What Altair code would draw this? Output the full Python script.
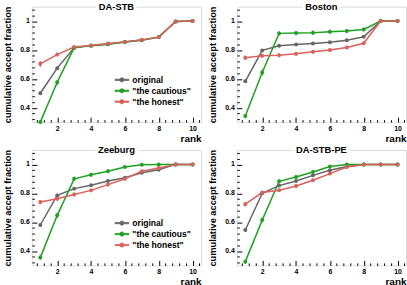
import altair as alt
import pandas as pd

ranks = [1, 2, 3, 4, 5, 6, 7, 8, 9, 10]
panel_names = ["DA-STB", "Boston", "Zeeburg", "DA-STB-PE"]
series_names = ["original", "\"the cautious\"", "\"the honest\""]
series_colors = ["#666666", "#22a022", "#d9625b"]

# DA-STB
dastb_original = [0.500, 0.674, 0.815, 0.830, 0.840, 0.855, 0.868, 0.889, 0.998, 1.000]
dastb_cautious = [0.300, 0.576, 0.815, 0.830, 0.841, 0.855, 0.869, 0.889, 0.998, 1.000]
dastb_honest = [0.704, 0.768, 0.820, 0.831, 0.845, 0.856, 0.870, 0.889, 0.998, 1.000]
dastb_err_original = [0.010, 0.010, 0.008, 0.007, 0.007, 0.007, 0.006, 0.006, 0.002, 0.000]
dastb_err_cautious = [0.012, 0.018, 0.008, 0.007, 0.007, 0.007, 0.006, 0.006, 0.002, 0.000]
dastb_err_honest = [0.020, 0.012, 0.008, 0.007, 0.007, 0.007, 0.006, 0.006, 0.002, 0.000]

# Boston
boston_original = [0.583, 0.797, 0.829, 0.838, 0.845, 0.854, 0.868, 0.892, 1.000, 1.000]
boston_cautious = [0.342, 0.644, 0.915, 0.917, 0.920, 0.926, 0.931, 0.942, 1.000, 1.000]
boston_honest = [0.746, 0.760, 0.764, 0.773, 0.787, 0.799, 0.817, 0.846, 1.000, 1.000]
boston_err_original = [0.010, 0.008, 0.007, 0.007, 0.007, 0.007, 0.007, 0.006, 0.002, 0.000]
boston_err_cautious = [0.015, 0.020, 0.015, 0.015, 0.015, 0.014, 0.013, 0.012, 0.003, 0.000]
boston_err_honest = [0.015, 0.014, 0.014, 0.013, 0.013, 0.013, 0.012, 0.012, 0.003, 0.000]

# Zeeburg
zeeburg_original = [0.580, 0.785, 0.832, 0.855, 0.885, 0.908, 0.942, 0.963, 1.000, 1.000]
zeeburg_cautious = [0.354, 0.647, 0.900, 0.928, 0.952, 0.982, 0.998, 1.000, 1.000, 1.000]
zeeburg_honest = [0.739, 0.762, 0.792, 0.820, 0.860, 0.900, 0.952, 0.975, 1.000, 1.000]
zeeburg_err_original = [0.012, 0.010, 0.009, 0.009, 0.008, 0.008, 0.007, 0.006, 0.002, 0.000]
zeeburg_err_cautious = [0.015, 0.018, 0.015, 0.014, 0.012, 0.008, 0.003, 0.002, 0.000, 0.000]
zeeburg_err_honest = [0.015, 0.014, 0.014, 0.013, 0.013, 0.012, 0.010, 0.008, 0.002, 0.000]

# DA-STB-PE
dastbpe_original = [0.545, 0.800, 0.853, 0.885, 0.924, 0.959, 0.986, 1.000, 1.000, 1.000]
dastbpe_cautious = [0.326, 0.614, 0.883, 0.913, 0.947, 0.986, 1.000, 1.000, 1.000, 1.000]
dastbpe_honest = [0.724, 0.805, 0.821, 0.850, 0.890, 0.936, 0.982, 1.000, 1.000, 1.000]
dastbpe_err_original = [0.010, 0.008, 0.008, 0.007, 0.006, 0.005, 0.003, 0.001, 0.000, 0.000]
dastbpe_err_cautious = [0.012, 0.016, 0.012, 0.011, 0.010, 0.006, 0.002, 0.000, 0.000, 0.000]
dastbpe_err_honest = [0.016, 0.012, 0.012, 0.011, 0.010, 0.009, 0.005, 0.001, 0.000, 0.000]

panel_values = {
    "DA-STB": [dastb_original, dastb_cautious, dastb_honest],
    "Boston": [boston_original, boston_cautious, boston_honest],
    "Zeeburg": [zeeburg_original, zeeburg_cautious, zeeburg_honest],
    "DA-STB-PE": [dastbpe_original, dastbpe_cautious, dastbpe_honest],
}
panel_errors = {
    "DA-STB": [dastb_err_original, dastb_err_cautious, dastb_err_honest],
    "Boston": [boston_err_original, boston_err_cautious, boston_err_honest],
    "Zeeburg": [zeeburg_err_original, zeeburg_err_cautious, zeeburg_err_honest],
    "DA-STB-PE": [dastbpe_err_original, dastbpe_err_cautious, dastbpe_err_honest],
}

x_tick_values = [round(0.8 + 0.4 * k, 1) for k in range(25)]
y_tick_values = [round(0.32 + 0.04 * k, 2) for k in range(20)]
x_tick_labels = ["2", "4", "6", "8", "10"]
y_label_values = [0.4, 0.6, 0.8, 1.0]
y_tick_labels = ["0.4", "0.6", "0.8", "1"]

FONT = "Liberation Sans"
W, H = 170, 116
TICK = 5


def js_list(items):
    return "[" + ",".join("'" + s + "'" for s in items) + "]"


LEGEND_SYMBOL = ("M-1,-0.09H1V0.09H-1Z"
                 "M-0.3,0A0.3,0.3,0,1,1,0.3,0A0.3,0.3,0,1,1,-0.3,0Z")

X_MAJOR = "indexof(" + js_list(x_tick_labels) + ", format(datum.value, '~g')) >= 0"
Y_MAJOR = "indexof(" + js_list(y_tick_labels) + ", format(datum.value, '~g')) >= 0"

X_SCALE = alt.Scale(domain=[0.5, 10.5], nice=False, zero=False)
Y_SCALE = alt.Scale(domain=[0.3, 1.1], nice=False, zero=False)

X_AXIS = alt.Axis(
    values=x_tick_values, offset=-TICK, zindex=1,
    labelExpr="(" + X_MAJOR + ") ? format(datum.value, '~g') : ''", labelOverlap=False,
    ticks=True, tickSize=TICK, tickColor="black", tickWidth=1,
    tickDash={"condition": {"test": X_MAJOR, "value": [TICK, 100]},
              "value": [0, TICK / 2, TICK / 2, 100]},
    domain=False, grid=False,
    labelFont=FONT, labelFontWeight="bold", labelFontSize=7, labelPadding=2,
    labelColor="black", labelFlush=False, labelBound=False,
    title="rank", titleFont=FONT, titleFontWeight="bold", titleFontSize=10,
    titleAnchor="end", titlePadding=2, titleColor="black",
)
Y_AXIS = alt.Axis(
    values=y_tick_values, offset=-TICK, zindex=1,
    labels=False,
    ticks=True, tickSize=TICK, tickColor="black", tickWidth=1,
    tickDash={"condition": {"test": Y_MAJOR, "value": [TICK, 100]},
              "value": [0, TICK / 2, TICK / 2, 100]},
    domain=False, grid=False,
    title="cumulative accept fraction", titleFont=FONT, titleFontWeight="bold",
    titleFontSize=9.3, titlePadding=19, titleColor="black",
)


def make_panel(name):
    rows = []
    for s, vals, errs in zip(series_names, panel_values[name], panel_errors[name]):
        for r, v, e in zip(ranks, vals, errs):
            rows.append({"rank": r, "value": v, "lo": v - e, "hi": v + e, "series": s})
    df = pd.DataFrame(rows)

    color = alt.Color(
        "series:N",
        scale=alt.Scale(domain=series_names, range=series_colors),
        legend=alt.Legend(
            orient="none", legendX=83, legendY=68, title=None, padding=0,
            labelFont=FONT, labelFontWeight="bold", labelFontSize=8.6,
            labelColor="black", labelOffset=3,
            symbolType=LEGEND_SYMBOL, symbolSize=196, symbolStrokeWidth=0.8,
            clipHeight=11, rowPadding=0,
        ),
    )
    x = alt.X("rank:Q", scale=X_SCALE, axis=X_AXIS)
    y = alt.Y("value:Q", scale=Y_SCALE, axis=Y_AXIS)
    base = alt.Chart(df).encode(x=x, y=y, color=color)
    lines = base.mark_line(strokeWidth=1.5)
    pts = base.mark_point(filled=True, size=16, opacity=1, shape="circle")
    errs = base.mark_rule(strokeWidth=1.3).encode(
        y=alt.Y("lo:Q", scale=Y_SCALE, axis=Y_AXIS), y2="hi:Q")

    # y tick labels, placed through the y scale just left of the frame
    ldf = pd.DataFrame({"v": y_label_values, "lab": y_tick_labels})
    ylabels = alt.Chart(ldf).mark_text(
        font=FONT, fontWeight="bold", fontSize=7, color="black",
        align="right", baseline="middle",
    ).encode(x=alt.value(-2), y=alt.Y("v:Q", scale=Y_SCALE, axis=Y_AXIS), text="lab:N")

    tdf = pd.DataFrame({"t": [name]})
    tx = alt.X(datum=5.5, type="quantitative", scale=X_SCALE, axis=X_AXIS)
    ty = alt.Y(datum=1.1, type="quantitative", scale=Y_SCALE, axis=Y_AXIS)
    halo = alt.Chart(tdf).mark_text(
        font=FONT, fontWeight="bold", fontSize=9.4, stroke="white", strokeWidth=6,
        strokeJoin="round", fill="white", baseline="middle", align="center",
    ).encode(x=tx, y=ty, text="t:N")
    title = alt.Chart(tdf).mark_text(
        font=FONT, fontWeight="bold", fontSize=9.4, color="black",
        baseline="middle", align="center",
    ).encode(x=tx, y=ty, text="t:N")

    return alt.layer(lines, errs, pts, ylabels, halo, title).properties(width=W, height=H)


p = [make_panel(n) for n in panel_names]
row1 = alt.hconcat(p[0], p[1], spacing=5)
row2 = alt.hconcat(p[2], p[3], spacing=5)
chart = alt.vconcat(row1, row2, spacing=0).resolve_scale(color="independent").properties(
    padding={"left": 2, "top": 0, "right": 0, "bottom": 0}
).configure_view(stroke="black", strokeWidth=1).configure(background="white")

chart.save("out.html", embed_options={"renderer": "svg", "actions": False})
